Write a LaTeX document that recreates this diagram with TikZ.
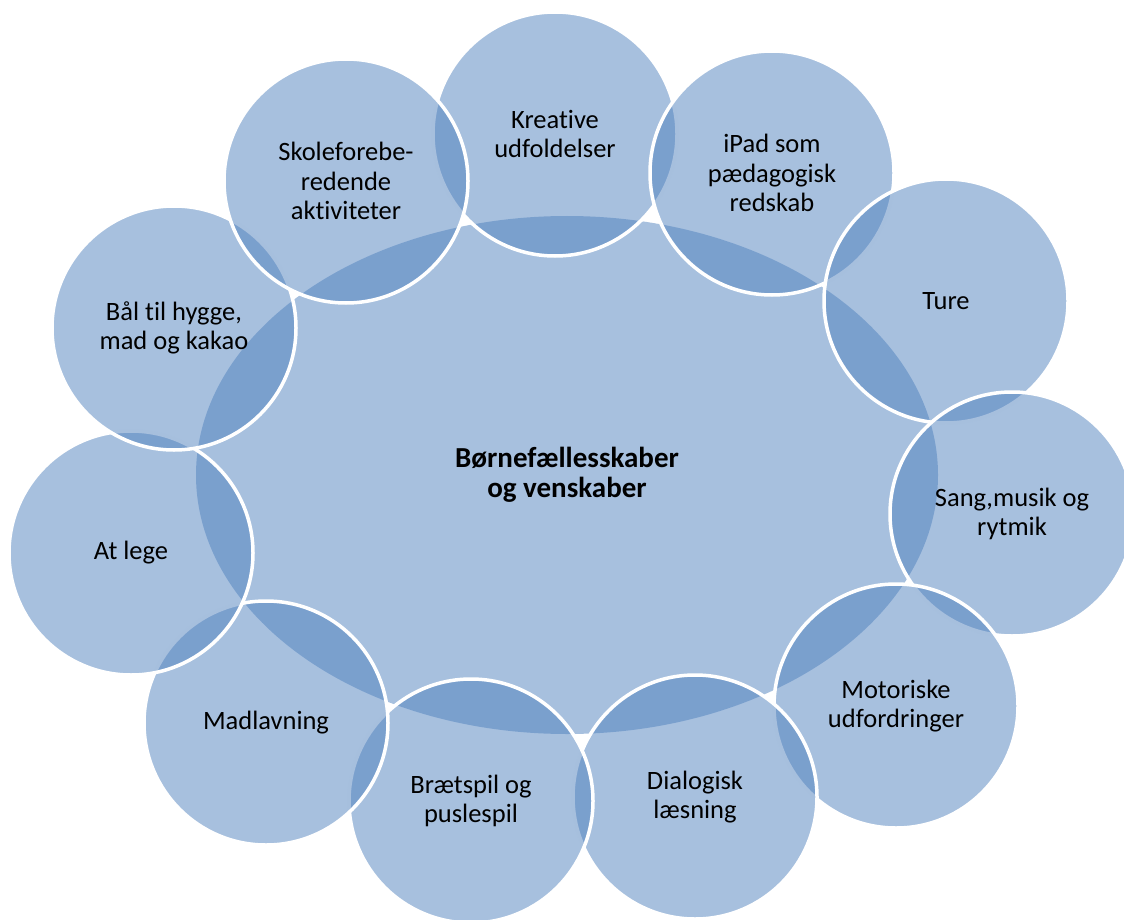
\documentclass[tikz,border=0pt]{standalone}
\usepackage{fontspec}
\setmainfont{Carlito}[Ligatures=NoCommon]
\usetikzlibrary{shapes.geometric}
\definecolor{accentblue}{RGB}{79,129,189}

\begin{document}
\begin{tikzpicture}[x=1pt,y=-1pt,
  topic/.style={circle,minimum size=244pt,inner sep=0pt,fill=accentblue,
    fill opacity=0.5,text opacity=1,draw=white,line width=3.5pt,align=center,
    font=\fontsize{26.5}{29.5}\selectfont},
  core/.style={ellipse,minimum width=742pt,minimum height=518pt,inner sep=0pt,
    fill=accentblue,fill opacity=0.5,text opacity=1,align=center,
    font=\bfseries\fontsize{29}{30.5}\selectfont}]
  \useasboundingbox (0,0) rectangle (1124,920);
  % centre
  \node[core] (hub) at (567,475) {Børnefællesskaber\\og venskaber};
  % ring, clockwise from the top
  \node[topic] (kreativ) at (555,134) {Kreative\\udfoldelser};
  \node[topic] (ipad) at (772,173) {iPad som\\pædagogisk\\redskab};
  \node[topic] (ture) at (946,301) {Ture};
  \node[topic] (sang) at (1012,514) {Sang,musik og\\rytmik};
  \node[topic] (motorik) at (896,706) {Motoriske\\udfordringer};
  \node[topic] (dialog) at (695,797) {Dialogisk\\læsning};
  \node[topic] (spil) at (471,801) {Brætspil og\\puslespil};
  \node[topic] (mad) at (266,723) {Madlavning};
  \node[topic] (leg) at (131,553) {At lege};
  \node[topic] (baal) at (174,328) {Bål til hygge,\\mad og kakao};
  \node[topic] (skole) at (346,181) {Skoleforebe-\\redende\\aktiviteter};
\end{tikzpicture}
\end{document}
